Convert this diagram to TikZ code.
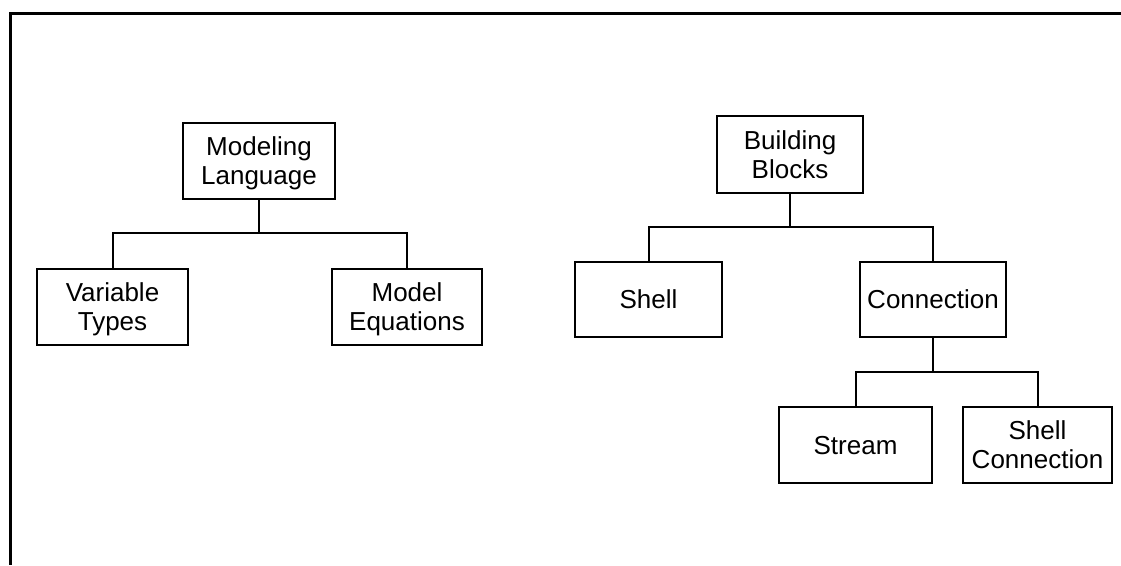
\documentclass[tikz,border=0pt]{standalone}
\usepackage{fontspec}
\setmainfont{Liberation Sans}
\begin{document}
\begin{tikzpicture}[x=1pt,y=-1pt,
  box/.style={draw, line width=2.2pt, rectangle, align=center, inner sep=0pt,
    font=\fontsize{26pt}{29pt}\selectfont, text height=18.6pt, text depth=0pt},
  twoline/.style={box, text height=47.6pt},
  link/.style={line width=2pt},
  frame/.style={line width=3pt}]
\useasboundingbox (0,0) rectangle (1121,565);

% page frame (top and left edges)
\draw[frame] (1121,13) -- (10,13) -- (10,565);

% left tree
\node[twoline, minimum width=152pt, minimum height=76pt] (ml) at (259,161) {Modeling\\Language};
\node[twoline, minimum width=151pt, minimum height=76pt] (vt) at (112.5,307) {Variable\\Types};
\node[twoline, minimum width=150pt, minimum height=76pt] (me) at (407,307) {Model\\Equations};
\coordinate (mlbar) at (259,233);
\draw[link] (ml.south) -- (mlbar);
\draw[link] (vt.north) |- (mlbar) -| (me.north);

% right tree
\node[twoline, minimum width=146pt, minimum height=77pt] (bb) at (790,154.5) {Building\\Blocks};
\node[box, minimum width=147pt, minimum height=75pt] (sh) at (648.5,299.5) {Shell};
\node[box, minimum width=146pt, minimum height=75pt] (cn) at (933,299.5) {Connection};
\coordinate (bbbar) at (790,227);
\draw[link] (bb.south) -- (bbbar);
\draw[link] (sh.north) |- (bbbar) -| (cn.north);

\node[box, minimum width=153pt, minimum height=76pt] (st) at (855.5,445) {Stream};
\node[twoline, minimum width=149pt, minimum height=76pt] (sc) at (1037.5,445) {Shell\\Connection};
\coordinate (cnbar) at (933,372);
\draw[link] (cn.south) -- (cnbar);
\draw[link] (st.north) |- (cnbar) -| (sc.north);
\end{tikzpicture}
\end{document}
